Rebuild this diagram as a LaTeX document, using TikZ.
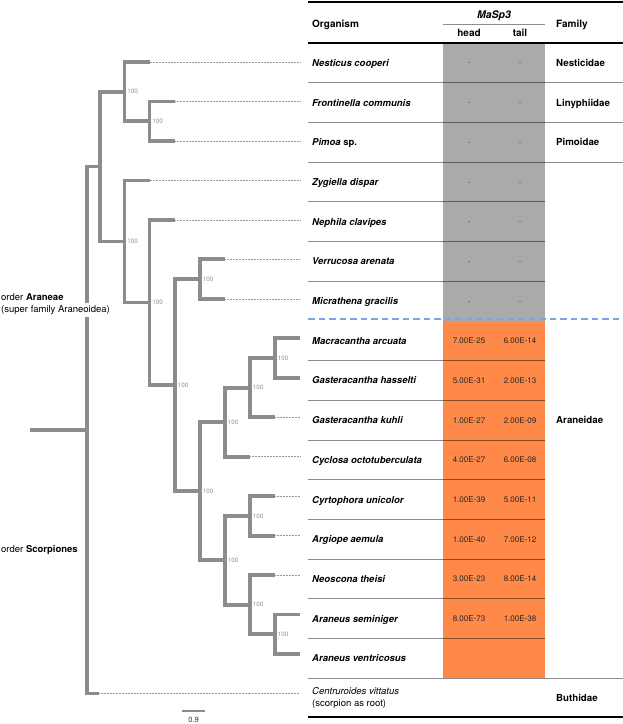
\documentclass[tikz,border=0pt]{standalone}
\usepackage{fontspec}
\setmainfont{TeX Gyre Heros}
\definecolor{treegray}{RGB}{140,140,140}
\definecolor{cellgray}{RGB}{170,170,170}
\definecolor{cellorange}{RGB}{255,137,72}
\definecolor{dashblue}{RGB}{125,165,230}
\definecolor{supgray}{RGB}{150,150,150}
\begin{document}
\begin{tikzpicture}[x=1pt,y=-1pt,
  branch/.style={draw=treegray,line width=3.8pt,line join=miter},
  dotline/.style={draw=black!40,line width=0.5pt,dash pattern=on 0.7pt off 0.8pt},
  supp/.style={anchor=west,inner sep=0pt,text=supgray,font=\fontsize{6.3}{7}\selectfont},
  sp/.style={anchor=base west,inner sep=0pt,font=\bfseries\fontsize{9.5}{11}\selectfont},
  fam/.style={anchor=base west,inner sep=0pt,font=\bfseries\fontsize{9.7}{11}\selectfont},
  hdr/.style={anchor=base,inner sep=0pt,font=\bfseries\fontsize{10}{11}\selectfont},
  val/.style={anchor=base,inner sep=0pt,text=black!85,font=\fontsize{8}{10}\selectfont},
  nil/.style={anchor=base,inner sep=0pt,text=black!62,font=\fontsize{9}{10}\selectfont},
  sep/.style={draw=black,opacity=0.45,line width=0.8pt},
  plain/.style={anchor=base west,inner sep=0pt,font=\fontsize{9.5}{11.5}\selectfont},
]
\useasboundingbox (0,0) rectangle (623,724);

% ---- table fills
\fill[cellgray] (443,43) rectangle (545,320.8);
\fill[cellorange] (443,320.8) rectangle (545,678);

% ---- row separators
\foreach \yy in {82.69,122.38,162.07} \draw[sep] (308,\yy) -- (623,\yy);
\foreach \yy in {201.76,241.45,281.14,360.52,400.21,439.9,479.59,519.28,558.97,598.66,638.35} \draw[sep] (308,\yy) -- (545,\yy);
\draw[sep] (308,678) -- (623,678);

% ---- dashed boundary
\draw[dashblue,line width=2.2pt,dash pattern=on 6.5pt off 4pt] (308,319) -- (623,319);

% ---- rules
\draw[black,line width=2.4pt] (308,2) -- (623,2);
\draw[black,line width=1.4pt] (308,43) -- (623,43);
\draw[black,line width=2.4pt] (308,717) -- (623,717);
\draw[black!45,line width=0.7pt] (443,24) -- (545,24);

% ---- header
\node[hdr,anchor=base west] (hOrg) at (312,27.6) {Organism};
\node[hdr,font=\bfseries\itshape\fontsize{10.5}{11}\selectfont] (hMa) at (494,18.6) {MaSp3};
\node[hdr] (hHead) at (469,36.6) {head};
\node[hdr] (hTail) at (520,36.6) {tail};
\node[hdr,anchor=base west] (hFam) at (556,27.6) {Family};

% ---- species
\node[sp] (s1) at (312,66.4) {\textit{Nesticus cooperi}};
\node[sp] (s2) at (312,106.1) {\textit{Frontinella communis}};
\node[sp] (s3) at (312,145.8) {\textit{Pimoa} sp.};
\node[sp] (s4) at (312,185.5) {\textit{Zygiella dispar}};
\node[sp] (s5) at (312,225.2) {\textit{Nephila clavipes}};
\node[sp] (s6) at (312,264.9) {\textit{Verrucosa arenata}};
\node[sp] (s7) at (312,304.5) {\textit{Micrathena gracilis}};
\node[sp] (s8) at (312,344.2) {\textit{Macracantha arcuata}};
\node[sp] (s9) at (312,383.9) {\textit{Gasteracantha hasselti}};
\node[sp] (s10) at (312,423.6) {\textit{Gasteracantha kuhli}};
\node[sp] (s11) at (312,463.3) {\textit{Cyclosa octotuberculata}};
\node[sp] (s12) at (312,503.0) {\textit{Cyrtophora unicolor}};
\node[sp] (s13) at (312,542.7) {\textit{Argiope aemula}};
\node[sp] (s14) at (312,582.4) {\textit{Neoscona theisi}};
\node[sp] (s15) at (312,622.1) {\textit{Araneus seminiger}};
\node[sp] (s16) at (312,661.8) {\textit{Araneus ventricosus}};
\node[anchor=west,inner sep=0pt,align=left,font=\fontsize{9.5}{12}\selectfont] (s17) at (312,698) {\textit{Centruroides vittatus}\\(scorpion as root)};

% ---- gray dashes
\foreach \i/\yy in {1/65.9,2/105.6,3/145.3,4/185.0,5/224.7,6/264.4,7/304.0} {
  \node[nil] (gh\i) at (469,\yy) {-};
  \node[nil] (gt\i) at (520,\yy) {-};
}

% ---- values
\node[val] (h8) at (469,343.7) {7.00E-25};  \node[val] (v8) at (520,343.7) {6.00E-14};
\node[val] (h9) at (469,383.4) {5.00E-31};  \node[val] (v9) at (520,383.4) {2.00E-13};
\node[val] (h10) at (469,423.1) {1.00E-27}; \node[val] (v10) at (520,423.1) {2.00E-09};
\node[val] (h11) at (469,462.8) {4.00E-27}; \node[val] (v11) at (520,462.8) {6.00E-08};
\node[val] (h12) at (469,502.5) {1.00E-39}; \node[val] (v12) at (520,502.5) {5.00E-11};
\node[val] (h13) at (469,542.2) {1.00E-40}; \node[val] (v13) at (520,542.2) {7.00E-12};
\node[val] (h14) at (469,581.9) {3.00E-23}; \node[val] (v14) at (520,581.9) {8.00E-14};
\node[val] (h15) at (469,621.6) {8.00E-73}; \node[val] (v15) at (520,621.6) {1.00E-38};

% ---- families
\node[fam] (f1) at (556,66.4) {Nesticidae};
\node[fam] (f2) at (556,106.1) {Linyphiidae};
\node[fam] (f3) at (556,145.8) {Pimoidae};
\node[fam] (f4) at (556,423.6) {Araneidae};
\node[fam] (f5) at (556,701.4) {Buthidae};

% ---- tree coordinates
\coordinate (t1) at (149.5,62);
\coordinate (t2) at (175,101.47);
\coordinate (t3) at (175,140.94);
\coordinate (t4) at (149.5,180.41);
\coordinate (t5) at (175,219.88);
\coordinate (t6) at (225,259.35);
\coordinate (t7) at (225,298.82);
\coordinate (t8) at (300,338.29);
\coordinate (t9) at (300,377.76);
\coordinate (t10) at (275,417.23);
\coordinate (t11) at (250,456.7);
\coordinate (t12) at (275,496.17);
\coordinate (t13) at (275,535.64);
\coordinate (t14) at (275,575.11);
\coordinate (t15) at (300,614.58);
\coordinate (t16) at (300,654.05);
\coordinate (t17) at (99,693.52);

\coordinate (nA) at (149.5,121.2);
\coordinate (nB) at (124.5,91.6);
\coordinate (nC) at (200,279.1);
\coordinate (nD1) at (275,358.0);
\coordinate (nD2) at (250,387.6);
\coordinate (nD3) at (225,422.2);
\coordinate (nE1) at (250,515.9);
\coordinate (nF1) at (275,634.3);
\coordinate (nF2) at (250,604.7);
\coordinate (nE2) at (225,560.3);
\coordinate (nG) at (200,491.25);
\coordinate (nH) at (175,385.2);
\coordinate (nI) at (149.5,302.5);
\coordinate (nJ) at (124.5,241.5);
\coordinate (nK) at (100,166.5);
\coordinate (nR) at (87,430);
\coordinate (rs) at (30,430);

% ---- dotted leaders
\foreach \i/\yy in {1/62,2/101.47,3/140.94,4/180.41,5/219.88,6/259.35,7/298.82,10/417.23,11/456.7,12/496.17,13/535.64,14/575.11,17/693.52} {
  \coordinate (e\i) at (300,\yy);
  \draw[dotline] (t\i) -- (e\i);
}

% ---- branches
\draw[branch] (t2) -| (nA) |- (t3);
\draw[branch] (t1) -| (nB) |- (nA);
\draw[branch] (t6) -| (nC) |- (t7);
\draw[branch] (t8) -| (nD1) |- (t9);
\draw[branch] (nD1) -| (nD2) |- (t10);
\draw[branch] (nD2) -| (nD3) |- (t11);
\draw[branch] (t12) -| (nE1) |- (t13);
\draw[branch] (t15) -| (nF1) |- (t16);
\draw[branch] (t14) -| (nF2) |- (nF1);
\draw[branch] (nE1) -| (nE2) |- (nF2);
\draw[branch] (nD3) -| (nG) |- (nE2);
\draw[branch] (nC) -| (nH) |- (nG);
\draw[branch] (t5) -| (nI) |- (nH);
\draw[branch] (t4) -| (nJ) |- (nI);
\draw[branch] (nB) -| (nK) |- (nJ);
\draw[branch] (nK) -| (nR) |- (t17);
\draw[branch] (rs) -- (nR);

% ---- support values
\foreach \n in {nA,nB,nC,nD1,nD2,nD3,nE1,nE2,nF1,nF2,nG,nH,nI,nJ}
  \node[supp] (l\n) at ([xshift=2.6pt]\n) {100};

% ---- order labels
\node[plain] (oA) at (1,300.4) {order \textbf{Araneae}};
\node[plain,fill=white,inner xsep=1pt,inner ysep=2.5pt] (oA2) at (0,312.4) {(super family Araneoidea)};
\node[plain] (oS) at (1,552.4) {order \textbf{Scorpiones}};

% ---- scale bar
\coordinate (sb1) at (182,711);
\coordinate (sb2) at (205,711);
\draw[treegray,line width=2pt] (sb1) -- (sb2);
\node[inner sep=0pt,text=black!80,font=\fontsize{7.5}{8}\selectfont] (sbl) at (193.5,719.5) {0.9};
\end{tikzpicture}
\end{document}
